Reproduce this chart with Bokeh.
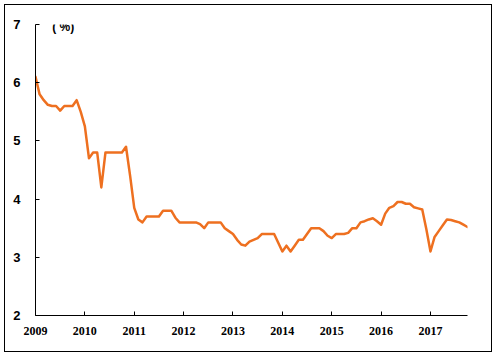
import numpy as np
from bokeh.plotting import figure
from bokeh.models import FixedTicker, Range1d, Label, ColumnDataSource
from bokeh.embed import file_html
from bokeh.resources import INLINE

# Monthly values (%), Jan 2009 .. Oct 2017
rate_2009 = [6.1, 5.8, 5.7, 5.62, 5.6, 5.6, 5.52, 5.6, 5.6, 5.6, 5.7, 5.5]
rate_2010 = [5.25, 4.7, 4.8, 4.8, 4.2, 4.8, 4.8, 4.8, 4.8, 4.8, 4.9, 4.4]
rate_2011 = [3.85, 3.65, 3.6, 3.7, 3.7, 3.7, 3.7, 3.8, 3.8, 3.8, 3.68, 3.6]
rate_2012 = [3.6, 3.6, 3.6, 3.6, 3.57, 3.5, 3.6, 3.6, 3.6, 3.6, 3.5, 3.45]
rate_2013 = [3.4, 3.3, 3.22, 3.2, 3.27, 3.3, 3.33, 3.4, 3.4, 3.4, 3.4, 3.25]
rate_2014 = [3.1, 3.2, 3.1, 3.2, 3.3, 3.3, 3.4, 3.5, 3.5, 3.5, 3.45, 3.37]
rate_2015 = [3.33, 3.4, 3.4, 3.4, 3.42, 3.5, 3.5, 3.6, 3.62, 3.65, 3.67, 3.62]
rate_2016 = [3.56, 3.75, 3.85, 3.88, 3.95, 3.95, 3.92, 3.92, 3.86, 3.84, 3.82, 3.48]
rate_2017 = [3.1, 3.35, 3.45, 3.55, 3.65, 3.64, 3.62, 3.6, 3.56, 3.52]

years = [2009, 2010, 2011, 2012, 2013, 2014, 2015, 2016, 2017]
y_ticks = [2, 3, 4, 5, 6, 7]
unit_label = "( %)"

values = (rate_2009 + rate_2010 + rate_2011 + rate_2012 + rate_2013 +
          rate_2014 + rate_2015 + rate_2016 + rate_2017)
t = [years[0] + i / 12 for i in range(len(values))]
src = ColumnDataSource(dict(t=t, v=values))

p = figure(width=488, height=348, output_backend="svg", toolbar_location=None,
           x_range=Range1d(years[0], t[-1]), y_range=Range1d(2, 7),
           min_border_left=30, min_border_right=26, min_border_top=19,
           min_border_bottom=38)
p.styles = {"border": "1px solid black", "margin-left": "4px", "margin-top": "4px"}
p.outline_line_color = None
p.xgrid.visible = False
p.ygrid.visible = False
p.background_fill_color = "white"
p.border_fill_color = "white"

p.line("t", "v", source=src, line_color="#EE7020", line_width=2.5,
       line_join="round", line_cap="round")

for ax in (p.xaxis[0], p.yaxis[0]):
    ax.axis_line_color = "black"
    ax.axis_line_width = 1
    ax.major_tick_line_color = "black"
    ax.major_tick_in = 4
    ax.major_tick_out = 0
    ax.minor_tick_line_color = None
    ax.major_label_text_color = "black"
    ax.major_label_text_font_style = "bold"

p.xaxis.ticker = FixedTicker(ticks=years)
p.xaxis.major_label_text_font = "Liberation Serif"
p.xaxis.major_label_text_font_size = "12px"
p.xaxis.major_label_standoff = 11

p.yaxis.ticker = FixedTicker(ticks=y_ticks)
p.yaxis.major_label_text_font = "Liberation Sans"
p.yaxis.major_label_text_font_size = "13px"
p.yaxis.major_label_standoff = 15

p.add_layout(Label(x=years[0] + 0.56, y=6.95, text=unit_label,
                   text_font="Liberation Sans", text_font_style="bold",
                   text_font_size="12px", text_align="center",
                   text_baseline="middle", text_color="black"))

open("out.html", "w").write(file_html(p, INLINE))
